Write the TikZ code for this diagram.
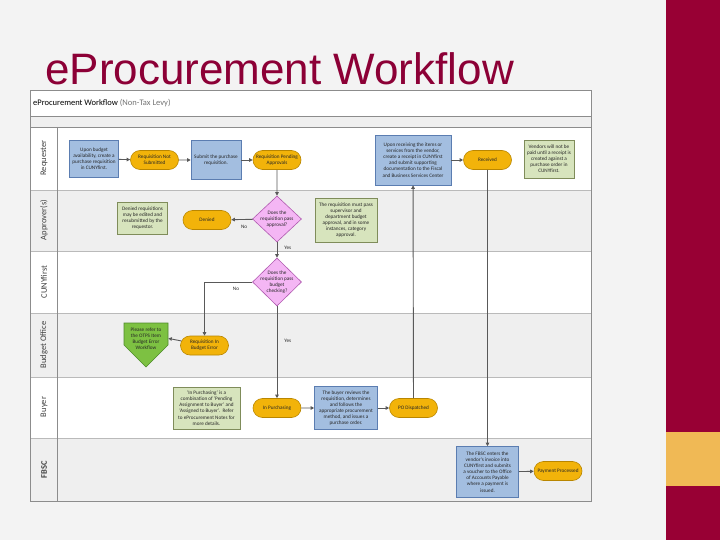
\documentclass[tikz,border=0pt]{standalone}
\usepackage{fontspec}
\setmainfont{Carlito}
\newfontfamily\titlefont{Liberation Sans}
\usetikzlibrary{arrows.meta,shapes.geometric,shapes.misc,shapes.symbols}

\definecolor{slidebg}{HTML}{F3F3F3}
\definecolor{crimson}{HTML}{980034}
\definecolor{titlered}{HTML}{8C0036}
\definecolor{gold}{HTML}{F0B955}
\definecolor{lanegray}{HTML}{EFEFEF}
\definecolor{framegray}{HTML}{8C8C8C}
\definecolor{taskfill}{HTML}{A3BEE0}
\definecolor{taskline}{HTML}{5B7DB1}
\definecolor{statefill}{HTML}{F2B30A}
\definecolor{stateline}{HTML}{B98600}
\definecolor{notefill}{HTML}{D7E4BD}
\definecolor{noteline}{HTML}{7F8C5A}
\definecolor{checkfill}{HTML}{F4B6F4}
\definecolor{checkline}{HTML}{B05AB0}
\definecolor{referfill}{HTML}{7DC142}
\definecolor{referline}{HTML}{4E8A2A}
\definecolor{flowgray}{HTML}{595959}

\begin{document}
\begin{tikzpicture}[x=1pt, y=-1pt,
  every node/.style={font=\fontsize{5.2}{6.1}\selectfont, text=black!85, align=center, inner sep=1pt},
  task/.style={draw=taskline, fill=taskfill, line width=.6pt},
  state/.style={rounded rectangle, draw=stateline, fill=statefill, line width=.6pt, minimum width=50, minimum height=19},
  note/.style={draw=noteline, fill=notefill, line width=.6pt},
  check/.style={diamond, draw=checkline, fill=checkfill, line width=.6pt, inner sep=-5pt, minimum width=49, minimum height=46},
  refer/.style={signal, signal to=south, signal pointer angle=90, draw=referline, fill=referfill, line width=.6pt, inner sep=0pt},
  lanelabel/.style={rotate=90, font=\fontsize{8.5}{9}\selectfont, text=black!75},
  flow/.style={draw=flowgray, line width=.9pt, -{Triangle[length=3.5pt,width=3.5pt]}}]
  % slide
  \useasboundingbox (0,0) rectangle (720,540);
  \fill[slidebg] (0,0) rectangle (720,540);
  \fill[crimson] (666,0) rectangle (720,540);
  \fill[gold] (666,432) rectangle (720,486);
  \node[anchor=base west, inner sep=0, font=\titlefont\fontsize{44}{44}\selectfont, text=titlered] (title) at (45,85) {eProcurement Workflow};

  % swim lanes
  \fill[white] (30,90) rectangle (591,501);
  \fill[lanegray] (30,116) rectangle (591,127);
  \fill[lanegray] (30,190) rectangle (591,251);
  \fill[lanegray] (30,313) rectangle (591,377);
  \fill[lanegray] (30,438) rectangle (591,501);
  \draw[framegray, line width=.5pt] (30,116) -- (591,116);
  \draw[framegray, line width=.5pt] (30,127) -- (591,127);
  \draw[framegray!60, line width=.5pt] (30,190) -- (591,190);
  \draw[framegray!60, line width=.5pt] (30,251) -- (591,251);
  \draw[framegray!60, line width=.5pt] (30,313) -- (591,313);
  \draw[framegray!60, line width=.5pt] (30,377) -- (591,377);
  \draw[framegray!60, line width=.5pt] (30,438) -- (591,438);
  \draw[framegray, line width=.5pt] (57,127) -- (57,501);
  \draw[framegray, line width=.7pt] (30,90) rectangle (591,501);
  \node[anchor=west, font=\fontsize{8.5}{9}\selectfont, text=black] (hdr) at (32,103) {eProcurement Workflow \textcolor{black!55}{(Non-Tax Levy)}};
  \node[lanelabel] (requester) at (44,158) {Requester};
  \node[lanelabel] (approver) at (44,220) {Approver(s)};
  \node[lanelabel] (cuny) at (44,282) {CUNYfirst};
  \node[lanelabel] (budget) at (44,345) {Budget Office};
  \node[lanelabel] (buyer) at (44,407) {Buyer};
  \node[lanelabel] (fbsc) at (44,470) {\textbf{FBSC}};

  % requester
  \node[task, minimum width=49, minimum height=37] (r1) at (94,159) {Upon budget\\availability, create a\\purchase requisition\\in CUNYfirst.};
  \node[state] (r2) at (154.5,160) {Requisition Not\\Submitted};
  \node[task, minimum width=50, minimum height=39] (r3) at (216,160) {Submit the purchase\\requisition.};
  \node[state] (r4) at (277,160) {Requisition Pending\\Approvals};
  \node[task, minimum width=76, minimum height=50] (r5) at (413,160) {Upon receiving the items or\\services from the vendor,\\create a receipt in CUNYfirst\\and submit supporting\\documentation to the Fiscal\\and Business Services Center};
  \node[state] (r6) at (487.5,160) {Received};
  \node[note, minimum width=50, minimum height=38] (r7) at (549,159) {Vendors will not be\\paid until a receipt is\\created against a\\purchase order in\\CUNYfirst.};

  % approver(s)
  \node[note, minimum width=50, minimum height=32] (a1) at (142.5,218) {Denied requisitions\\may be edited and\\resubmitted by the\\requestor.};
  \node[state] (a2) at (207,220) {Denied};
  \node[check] (a3) at (277,219) {Does the\\requisition pass\\approval?};
  \node[note, minimum width=62, minimum height=44] (a4) at (346,220) {The requisition must pass\\supervisor and\\department budget\\approval, and in some\\instances, category\\approval.};

  % cunyfirst
  \node[check, minimum height=48] (c1) at (277,282) {Does the\\requisition pass\\budget\\checking?};

  % budget office
  \node[refer, minimum width=44, minimum height=22] (b1) at (146,334) {};
  \node (b1text) at (146,339) {Please refer to\\the OTPS Item\\Budget Error\\Workflow};
  \node[state] (b2) at (204.5,345.5) {Requisition In\\Budget Error};

  % buyer
  \node[note, minimum width=67, minimum height=42] (u1) at (206.5,408) {`In Purchasing' is a\\combination of `Pending\\Assignment to Buyer' and\\`Assigned to Buyer'.\ \ Refer\\to eProcurement Notes for\\more details.};
  \node[state] (u2) at (277,408) {In Purchasing};
  \node[task, minimum width=63, minimum height=43] (u3) at (346,408) {The buyer reviews the\\requisition, determines\\and follows the\\appropriate procurement\\method, and issues a\\purchase order.};
  \node[state] (u4) at (413.5,408) {PO Dispatched};

  % fbsc
  \node[task, minimum width=62, minimum height=51] (f1) at (487.5,472) {The FBSC enters the\\vendor's invoice into\\CUNYfirst and submits\\a voucher to the Office\\of Accounts Payable\\where a payment is\\issued.};
  \node[state] (f2) at (558,471) {Payment Processed};

  % flow
  \draw[flow] (r1) -- (r2);
  \draw[flow] (r2) -- (r3);
  \draw[flow] (r3) -- (r4);
  \draw[flow] (r4) -- (a3);
  \draw[flow] (a3) -- (a2) node[pos=.4, below=4pt] {No};
  \draw[flow] (a3) -- (c1) node[pos=.35, right=6pt] {Yes};
  \draw[flow] (c1.west) -| (b2.north) node[pos=.17, below=4pt] {No};
  \draw[flow] (c1) -- (u2) node[pos=.38, right=6pt] {Yes};
  \draw[flow] (b2) -- (b1);
  \draw[flow] (u2) -- (u3);
  \draw[flow] (u3) -- (u4);
  \draw[flow] (u4) -- (r5);
  \draw[flow] (r5) -- (r6);
  \draw[flow] (r6) -- (f1);
  \draw[flow] (f1) -- (f2);
\end{tikzpicture}
\end{document}
